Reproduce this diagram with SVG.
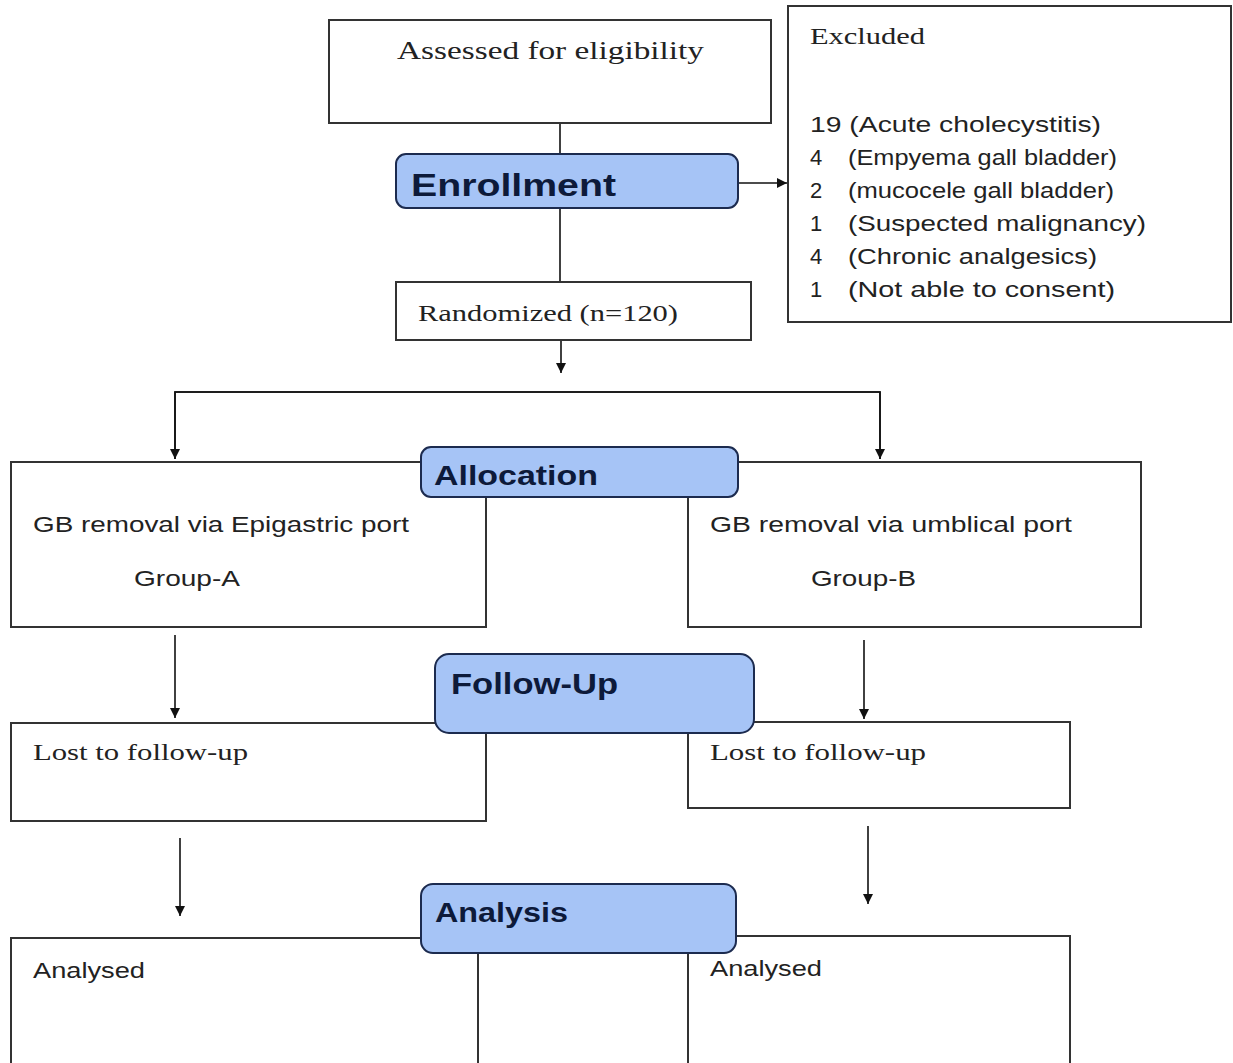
<svg xmlns="http://www.w3.org/2000/svg" width="1233" height="1063" viewBox="0 0 1233 1063">
<style>
.box{fill:#ffffff;stroke:#333333;stroke-width:2}
.phase{fill:#a6c4f6;stroke:#1c2b4f;stroke-width:2}
.ser{font-family:"Liberation Serif","Times New Roman",serif;fill:#222222}
.sans{font-family:"Liberation Sans",Arial,sans-serif;fill:#222222}
.bold{font-family:"Liberation Sans",Arial,sans-serif;font-weight:bold;fill:#0d1a3a}
.con{fill:none;stroke:#111111;stroke-width:1.6}
</style>
<defs>
<marker id="ah" viewBox="0 0 10 12" refX="10" refY="6" markerWidth="12" markerHeight="12" markerUnits="userSpaceOnUse" orient="auto">
<path d="M0,1 L10,6 L0,11 z" fill="#111111"/>
</marker>
</defs>
<rect width="1233" height="1063" fill="#ffffff"/>

<g id="connectors">
<line class="con" x1="560" y1="123" x2="560" y2="154"/>
<line class="con" x1="560" y1="208" x2="560" y2="282"/>
<line class="con" x1="738" y1="183" x2="787" y2="183" marker-end="url(#ah)"/>
<line class="con" x1="561" y1="340" x2="561" y2="373" marker-end="url(#ah)"/>
<polyline class="con" points="175,459 175,392 880,392 880,459" marker-end="url(#ah)"/>
<polyline class="con" points="880,459 880,392 175,392 175,459" marker-end="url(#ah)"/>
<line class="con" x1="175" y1="635" x2="175" y2="718" marker-end="url(#ah)"/>
<line class="con" x1="864" y1="640" x2="864" y2="719" marker-end="url(#ah)"/>
<line class="con" x1="180" y1="838" x2="180" y2="916" marker-end="url(#ah)"/>
<line class="con" x1="868" y1="826" x2="868" y2="904" marker-end="url(#ah)"/>
</g>

<g id="assessed">
<rect class="box" x="329" y="20" width="442" height="103"/>
<text class="ser" x="397" y="59" font-size="26" textLength="307" lengthAdjust="spacingAndGlyphs">Assessed for eligibility</text>
</g>

<g id="excluded">
<rect class="box" x="788" y="6" width="443" height="316"/>
<text class="ser" x="810" y="44" font-size="23" textLength="115" lengthAdjust="spacingAndGlyphs">Excluded</text>
<text class="sans" x="810" y="132" font-size="22" textLength="291" lengthAdjust="spacingAndGlyphs">19 (Acute cholecystitis)</text>
<text class="sans" x="810" y="165" font-size="22">4</text>
<text class="sans" x="848" y="165" font-size="22" textLength="269" lengthAdjust="spacingAndGlyphs">(Empyema gall bladder)</text>
<text class="sans" x="810" y="198" font-size="22">2</text>
<text class="sans" x="848" y="198" font-size="22" textLength="266" lengthAdjust="spacingAndGlyphs">(mucocele gall bladder)</text>
<text class="sans" x="810" y="231" font-size="22">1</text>
<text class="sans" x="848" y="231" font-size="22" textLength="298" lengthAdjust="spacingAndGlyphs">(Suspected malignancy)</text>
<text class="sans" x="810" y="264" font-size="22">4</text>
<text class="sans" x="848" y="264" font-size="22" textLength="249" lengthAdjust="spacingAndGlyphs">(Chronic analgesics)</text>
<text class="sans" x="810" y="297" font-size="22">1</text>
<text class="sans" x="848" y="297" font-size="22" textLength="267" lengthAdjust="spacingAndGlyphs">(Not able to consent)</text>
</g>

<g id="enrollment">
<rect class="phase" x="396" y="154" width="342" height="54" rx="10"/>
<text class="bold" x="411" y="196" font-size="31" textLength="205" lengthAdjust="spacingAndGlyphs">Enrollment</text>
</g>

<g id="randomized">
<rect class="box" x="396" y="282" width="355" height="58"/>
<text class="ser" x="418" y="321" font-size="24" textLength="260" lengthAdjust="spacingAndGlyphs">Randomized (n=120)</text>
</g>

<g id="groupA">
<rect class="box" x="11" y="462" width="475" height="165"/>
<text class="sans" x="33" y="532" font-size="22" textLength="376" lengthAdjust="spacingAndGlyphs">GB removal via Epigastric port</text>
<text class="sans" x="134" y="586" font-size="22" textLength="106" lengthAdjust="spacingAndGlyphs">Group-A</text>
</g>

<g id="groupB">
<rect class="box" x="688" y="462" width="453" height="165"/>
<text class="sans" x="710" y="532" font-size="22" textLength="362" lengthAdjust="spacingAndGlyphs">GB removal via umblical port</text>
<text class="sans" x="811" y="586" font-size="22" textLength="105" lengthAdjust="spacingAndGlyphs">Group-B</text>
</g>

<g id="allocation">
<rect class="phase" x="421" y="447" width="317" height="50" rx="10"/>
<text class="bold" x="434" y="485" font-size="27" textLength="164" lengthAdjust="spacingAndGlyphs">Allocation</text>
</g>

<g id="lostA">
<rect class="box" x="11" y="723" width="475" height="98"/>
<text class="ser" x="33" y="760" font-size="24" textLength="215" lengthAdjust="spacingAndGlyphs">Lost to follow-up</text>
</g>

<g id="lostB">
<rect class="box" x="688" y="722" width="382" height="86"/>
<text class="ser" x="710" y="760" font-size="24" textLength="216" lengthAdjust="spacingAndGlyphs">Lost to follow-up</text>
</g>

<g id="followup">
<rect class="phase" x="435" y="654" width="319" height="79" rx="14"/>
<text class="bold" x="451" y="694" font-size="29" textLength="167" lengthAdjust="spacingAndGlyphs">Follow-Up</text>
</g>

<g id="analysedA">
<rect class="box" x="11" y="938" width="467" height="135"/>
<text class="sans" x="33" y="978" font-size="22" textLength="112" lengthAdjust="spacingAndGlyphs">Analysed</text>
</g>

<g id="analysedB">
<rect class="box" x="688" y="936" width="382" height="137"/>
<text class="sans" x="710" y="976" font-size="22" textLength="112" lengthAdjust="spacingAndGlyphs">Analysed</text>
</g>

<g id="analysis">
<rect class="phase" x="421" y="884" width="315" height="69" rx="12"/>
<text class="bold" x="435" y="922" font-size="28" textLength="133" lengthAdjust="spacingAndGlyphs">Analysis</text>
</g>
</svg>
